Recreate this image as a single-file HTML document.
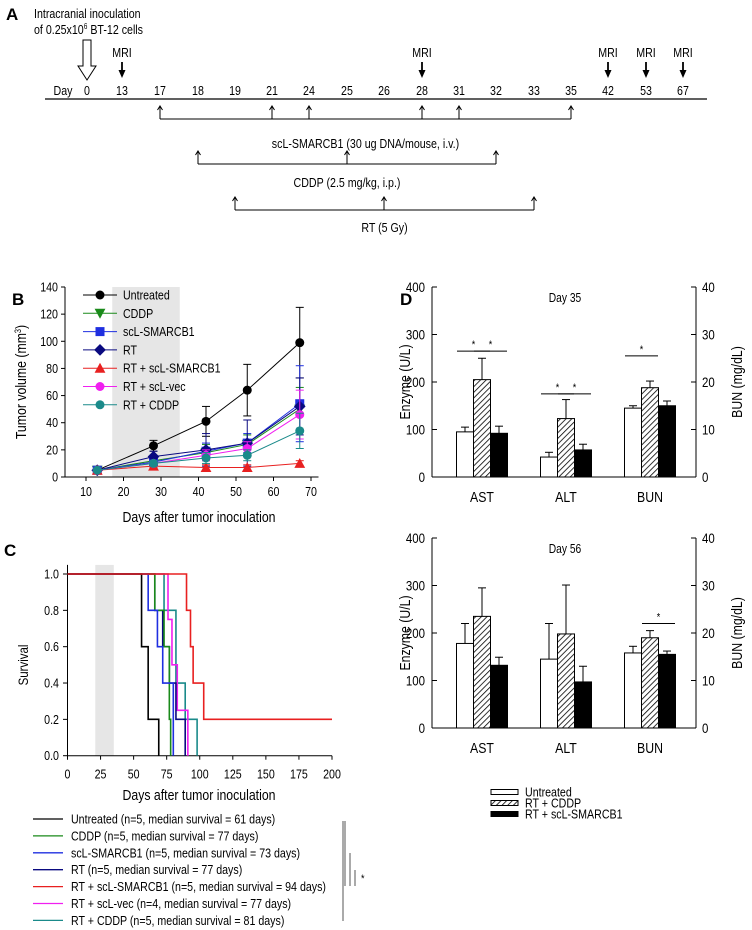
<!DOCTYPE html>
<html><head><meta charset="utf-8"><style>
body{margin:0;background:#fff;}
svg{display:block;font-family:"Liberation Sans",sans-serif;}
</style></head><body>
<svg id="fig" width="752" height="930" viewBox="0 0 752 930" xmlns="http://www.w3.org/2000/svg">
<defs>
<pattern id="hatch" patternUnits="userSpaceOnUse" width="4" height="4" patternTransform="rotate(45)"><rect width="4" height="4" fill="#fff"/><line x1="0" y1="0" x2="0" y2="4" stroke="#000" stroke-width="1.6"/></pattern>
</defs>
<g id="gA"></g>
<g id="gB"></g>
<g id="gC"></g>
<g id="gD"></g>
</svg>
<script>
// ---------- data ----------
const tlDays=["0","13","17","18","19","21","24","25","26","28","31","32","33","35","42","53","67"];
const tlX=[87,122,160,198,235,272,309,347,384,422,459,496,534,571,608,646,683];
const mriDays=["13","28","42","53","67"];
const scDays=["17","21","24","28","31","35"];
const cddpDays=["18","25","32"];
const rtDays=["19","26","33"];

const bDays=[13,28,42,53,67];
const bNames=["Untreated","CDDP","scL-SMARCB1","RT","RT + scL-SMARCB1","RT + scL-vec","RT + CDDP"];
const bColors=["#000","#1a8a1a","#1f2fe0","#0a0a80","#e82020","#f020f0","#1a8a8a"];
const bMarkers=["circle","tri-down","square","diamond","tri-up","circle","circle"];
const vUntreated=[5,23,41,64,99];
const vCDDP=[5,12,18,24,50];
const vScl=[5,11,19,25,54];
const vRT=[5,15,20,25,52];
const vRTScl=[5,8,7,7,10];
const vRTVec=[5,10,16,21,46];
const vRTCDDP=[5,10,14,16,34];
const eUntreated=[0,4,11,19,26];
const eCDDP=[0,3,6,7,16];
const eScl=[0,3,6,7,28];
const eRT=[0,4,12,17,21];
const eRTScl=[0,1,2,2,2];
const eRTVec=[0,2,4,5,18];
const eRTCDDP=[0,2,4,4,13];
const bVals=[vUntreated,vCDDP,vScl,vRT,vRTScl,vRTVec,vRTCDDP];
const bErrs=[eUntreated,eCDDP,eScl,eRT,eRTScl,eRTVec,eRTCDDP];

const sUntreatedT=[56,61,69]; const sUntreatedS=[0.6,0.2,0];
const sCDDPT=[66,73,77,78]; const sCDDPS=[0.8,0.6,0.2,0];
const sSclT=[61,68,72,80]; const sSclS=[0.8,0.6,0.4,0];
const sRTT=[66,72,77,82,89]; const sRTS=[0.8,0.6,0.4,0.2,0];
const sRTSclT=[90,93,95,103]; const sRTSclS=[0.8,0.6,0.4,0.2];
const sRTVecT=[76,79,83,91]; const sRTVecS=[0.75,0.5,0.25,0];
const sRTCDDPT=[73,82,89,98]; const sRTCDDPS=[0.8,0.4,0.2,0];
const sTimes=[sUntreatedT,sCDDPT,sSclT,sRTT,sRTSclT,sRTVecT,sRTCDDPT];
const sSurv=[sUntreatedS,sCDDPS,sSclS,sRTS,sRTSclS,sRTVecS,sRTCDDPS];
const sLegend=["Untreated (n=5, median survival = 61 days)","CDDP (n=5, median survival = 77 days)","scL-SMARCB1 (n=5, median survival = 73 days)","RT (n=5, median survival = 77 days)","RT + scL-SMARCB1 (n=5, median survival = 94 days)","RT + scL-vec (n=4, median survival = 77 days)","RT + CDDP (n=5, median survival = 81 days)"];

const dCats=["AST","ALT","BUN"];
const d35Untreated=[95,42,145]; const d35Untreated_e=[10,10,5];
const d35RTCDDP=[205,123,188]; const d35RTCDDP_e=[45,40,14];
const d35RTScl=[92,57,150]; const d35RTScl_e=[15,12,10];
const d56Untreated=[178,145,158]; const d56Untreated_e=[42,75,14];
const d56RTCDDP=[235,198,190]; const d56RTCDDP_e=[60,103,15];
const d56RTScl=[132,97,155]; const d56RTScl_e=[17,33,7];
const dLegend=["Untreated","RT + CDDP","RT + scL-SMARCB1"];

// ---------- helpers ----------
const NS="http://www.w3.org/2000/svg";
function el(parent,tag,attrs,text){const e=document.createElementNS(NS,tag);for(const k in attrs)e.setAttribute(k,attrs[k]);if(text!==undefined)e.textContent=text;parent.appendChild(e);return e;}
function txt(p,x,y,s,size,anchor,extra){const t=el(p,'text',Object.assign({x:x,y:y,'font-size':size,'text-anchor':anchor||'start',fill:'#000'},extra||{}),s);return t;}

// ---------- Panel A ----------
const A=document.getElementById('gA');
let t=txt(A,6,20,"A",17,'start',{'font-weight':'bold',class:'plab'});


t=txt(A,34,18,"Intracranial inoculation",13);


t=el(A,'text',{x:34,y:34,'font-size':13});
t.innerHTML='of 0.25x10<tspan dy="-5" font-size="8">6</tspan><tspan dy="5"> BT-12 cells</tspan>';


el(A,'path',{d:'M83,40 L91,40 L91,66 L96,66 L87,80 L78,66 L83,66 Z',fill:'#fff',stroke:'#000','stroke-width':1});
function dx(d){return tlX[tlDays.indexOf(d)];}
let ln=el(A,'line',{x1:45,y1:99,x2:707,y2:99,stroke:'#000','stroke-width':1.3});


txt(A,63,95,"Day",13,'middle');
tlDays.forEach(d=>{txt(A,dx(d),95,d,13,'middle');});
mriDays.forEach(d=>{const x=dx(d);txt(A,x,57,"MRI",13,'middle');
 el(A,'line',{x1:x,y1:62,x2:x,y2:72,stroke:'#000','stroke-width':1.8});
 el(A,'path',{d:`M${x-3.5},70 L${x+3.5},70 L${x},78 Z`,fill:'#000'});});
function bracket(days,y,label,ly){const xs=days.map(dx);
 el(A,'line',{x1:xs[0],y1:y,x2:xs[xs.length-1],y2:y,stroke:'#000','stroke-width':1});
 xs.forEach(x=>{el(A,'line',{x1:x,y1:y,x2:x,y2:y-12,stroke:'#000','stroke-width':1});
  el(A,'path',{d:`M${x-2.5},${y-9} L${x},${y-13} L${x+2.5},${y-9}`,fill:'none',stroke:'#000','stroke-width':1});});
 txt(A,(xs[0]+xs[xs.length-1])/2,ly,label,13,'middle');}
bracket(scDays,119,"scL-SMARCB1 (30 ug DNA/mouse, i.v.)",148);
bracket(cddpDays,164,"CDDP (2.5 mg/kg, i.p.)",187);
bracket(rtDays,210,"RT (5 Gy)",232);

// ---------- Panel B ----------
const B=document.getElementById('gB');
const bx=d=>86+(d-10)*3.75, by=v=>477-v*190/140;
txt(B,12,305,"B",17,'start',{'font-weight':'bold',class:'plab'});
let r=el(B,'rect',{x:bx(17),y:by(140),width:bx(35)-bx(17),height:by(0)-by(140),fill:'#e6e6e6'});


el(B,'line',{x1:65,y1:by(140),x2:65,y2:477,stroke:'#000'});
el(B,'line',{x1:65,y1:477,x2:bx(72),y2:477,stroke:'#000'});
[0,20,40,60,80,100,120,140].forEach(v=>{el(B,'line',{x1:61,y1:by(v),x2:65,y2:by(v),stroke:'#000'});txt(B,58,by(v)+4.5,String(v),13,'end');});
[10,20,30,40,50,60,70].forEach(d=>{el(B,'line',{x1:bx(d),y1:477,x2:bx(d),y2:481,stroke:'#000'});txt(B,bx(d),496,String(d),13,'middle');});
t=el(B,'text',{x:0,y:0,'font-size':15,'text-anchor':'middle',transform:'translate(26,382) rotate(-90)'});
t.innerHTML='Tumor volume (mm<tspan dy="-5" font-size="9">3</tspan><tspan dy="5">)</tspan>';


t=txt(B,199,522,"Days after tumor inoculation",15,'middle');


function marker(p,type,x,y,c,s){
 if(type==='circle')return el(p,'circle',{cx:x,cy:y,r:s,fill:c});
 if(type==='square')return el(p,'rect',{x:x-s,y:y-s,width:2*s,height:2*s,fill:c});
 if(type==='diamond')return el(p,'path',{d:`M${x},${y-s*1.3} L${x+s*1.3},${y} L${x},${y+s*1.3} L${x-s*1.3},${y} Z`,fill:c});
 if(type==='tri-up')return el(p,'path',{d:`M${x},${y-s*1.2} L${x+s*1.2},${y+s} L${x-s*1.2},${y+s} Z`,fill:c});
 return el(p,'path',{d:`M${x},${y+s*1.2} L${x+s*1.2},${y-s} L${x-s*1.2},${y-s} Z`,fill:c});}
bVals.forEach((vals,i)=>{const g=el(B,'g',{});
 
 
 el(g,'polyline',{points:vals.map((v,j)=>bx(bDays[j])+','+by(v)).join(' '),fill:'none',stroke:bColors[i],'stroke-width':1});
 vals.forEach((v,j)=>{const e=bErrs[i][j];if(e>0){const x=bx(bDays[j]);
  el(g,'line',{x1:x,y1:by(v-e),x2:x,y2:by(v+e),stroke:bColors[i]});
  el(g,'line',{x1:x-4,y1:by(v+e),x2:x+4,y2:by(v+e),stroke:bColors[i]});
  el(g,'line',{x1:x-4,y1:by(v-e),x2:x+4,y2:by(v-e),stroke:bColors[i]});}
  marker(g,bMarkers[i],bx(bDays[j]),by(v),bColors[i],4.5);});});
bNames.forEach((n,i)=>{const y=295+i*18.3;const g=el(B,'g',{});
 
 
 el(g,'line',{x1:83,y1:y,x2:117,y2:y,stroke:bColors[i]});marker(g,bMarkers[i],100,y,bColors[i],4.5);txt(g,123,y+4.5,n,13);});

// ---------- Panel C ----------
const C=document.getElementById('gC');
const cx=d=>67.5+d*1.3225, cy=s=>755.7-s*181.7;
txt(C,4,556,"C",17,'start',{'font-weight':'bold',class:'plab'});
r=el(C,'rect',{x:cx(21),y:cy(1.05),width:cx(35)-cx(21),height:cy(0)-cy(1.05),fill:'#e6e6e6'});


el(C,'line',{x1:67.5,y1:cy(1.05),x2:67.5,y2:cy(0),stroke:'#000'});
el(C,'line',{x1:67.5,y1:cy(0),x2:cx(200),y2:cy(0),stroke:'#000'});
[0,0.2,0.4,0.6,0.8,1.0].forEach(v=>{el(C,'line',{x1:63,y1:cy(v),x2:67.5,y2:cy(v),stroke:'#000'});txt(C,59,cy(v)+4.5,v.toFixed(1),13,'end');});
for(let d=0;d<=200;d+=25){el(C,'line',{x1:cx(d),y1:cy(0),x2:cx(d),y2:cy(0)+4,stroke:'#000'});txt(C,cx(d),cy(0)+23,String(d),13,'middle');}
t=txt(C,0,0,"Survival",14,'middle',{transform:'translate(28,665) rotate(-90)'});


t=txt(C,199,800,"Days after tumor inoculation",15,'middle');


const order=[6,5,3,1,2,0,4];
order.forEach(i=>{let s=1,d=`M${cx(0)},${cy(1)}`;sTimes[i].forEach((tt,j)=>{d+=` L${cx(tt)},${cy(s)} L${cx(tt)},${cy(sSurv[i][j])}`;s=sSurv[i][j];});
 const last=s>0?200:sTimes[i][sTimes[i].length-1];d+=` L${cx(last)},${cy(s)}`;
 const p=el(C,'path',{d:d,fill:'none',stroke:bColors[i],'stroke-width':1.6});
 
 });
sLegend.forEach((n,i)=>{const y=819+i*16.9;const g=el(C,'g',{});
 
 
 el(g,'line',{x1:33,y1:y,x2:63,y2:y,stroke:bColors[i],'stroke-width':1.3});txt(g,71,y+4.5,n,13);});
[[343,821,921],[345,821,886],[350,853,886],[355,870,886]].forEach(a=>el(C,'line',{x1:a[0],y1:a[1],x2:a[0],y2:a[2],stroke:'#555'}));
txt(C,361,882,"*",11);

// ---------- Panel D ----------
const D=document.getElementById('gD');
txt(D,400,305,"D",17,'start',{'font-weight':'bold',class:'plab'});
const centers=[482,566,650];const bw=17;
function dPanel(y0,title,sets,errs,sigs){const dy=v=>y0-v*190/400;const g=el(D,'g',{});
 
 
 el(g,'line',{x1:432,y1:dy(400),x2:432,y2:y0,stroke:'#000'});
 el(g,'line',{x1:696,y1:dy(400),x2:696,y2:y0,stroke:'#000'});
 el(g,'line',{x1:432,y1:y0,x2:696,y2:y0,stroke:'#000'});
 [0,100,200,300,400].forEach(v=>{el(g,'line',{x1:432,y1:dy(v),x2:437,y2:dy(v),stroke:'#000'});txt(g,425,dy(v)+5,String(v),14,'end');
  el(g,'line',{x1:691,y1:dy(v),x2:696,y2:dy(v),stroke:'#000'});txt(g,702,dy(v)+5,String(v/10),14,'start');});
 txt(g,565,dy(400)+15,title,12.5,'middle');
 dCats.forEach((c,k)=>txt(g,centers[k],y0+25,c,15,'middle'));
 txt(g,0,0,"Enzyme (U/L)",15,'middle',{transform:`translate(410,${dy(200)}) rotate(-90)`});
 txt(g,0,0,"BUN (mg/dL)",15,'middle',{transform:`translate(742,${dy(200)}) rotate(-90)`});
 const fills=['#fff','url(#hatch)','#000'];
 sets.forEach((vals,s)=>vals.forEach((v,k)=>{const x=centers[k]-1.5*bw+s*bw;const e=errs[s][k];
  el(g,'line',{x1:x+bw/2,y1:dy(v),x2:x+bw/2,y2:dy(v+e),stroke:'#000'});
  el(g,'line',{x1:x+bw/2-4,y1:dy(v+e),x2:x+bw/2+4,y2:dy(v+e),stroke:'#000'});
  const b=el(g,'rect',{x:x,y:dy(v),width:bw,height:y0-dy(v),fill:fills[s],stroke:'#000','stroke-width':1});
  
  }));
 sigs.forEach(sg=>{const x1=centers[sg[0]]-1.5*bw+sg[1]*bw+bw/2-8,x2=centers[sg[0]]-1.5*bw+sg[2]*bw+bw/2+8;
  el(g,'line',{x1:x1,y1:dy(sg[3]),x2:x2,y2:dy(sg[3]),stroke:'#000'});txt(g,(x1+x2)/2,dy(sg[3])-3,"*",11,'middle');});}
dPanel(477,"Day 35",[d35Untreated,d35RTCDDP,d35RTScl],[d35Untreated_e,d35RTCDDP_e,d35RTScl_e],[[0,0,1,265],[0,1,2,265],[1,0,1,175],[1,1,2,175],[2,0,1,255]]);
dPanel(728,"Day 56",[d56Untreated,d56RTCDDP,d56RTScl],[d56Untreated_e,d56RTCDDP_e,d56RTScl_e],[[2,1,2,220]]);
const dFills=['#fff','url(#hatch)','#000'];
dLegend.forEach((n,i)=>{const y=792+i*11;const g=el(D,'g',{});
 
 
 el(g,'rect',{x:491,y:y-2.5,width:27,height:5,fill:dFills[i],stroke:'#000'});txt(g,525,y+4.5,n,13);});

// condense all text (narrow font look)
document.querySelectorAll('#fig text').forEach(tx=>{
 if(tx.getAttribute('class')==='plab')return;
 const x=parseFloat(tx.getAttribute('x'))||0,y=parseFloat(tx.getAttribute('y'))||0;
 const tr=tx.getAttribute('transform')||'';
 tx.setAttribute('transform',tr+` translate(${x},${y}) scale(0.82,1) translate(${-x},${-y})`);
});
</script>
</body></html>
